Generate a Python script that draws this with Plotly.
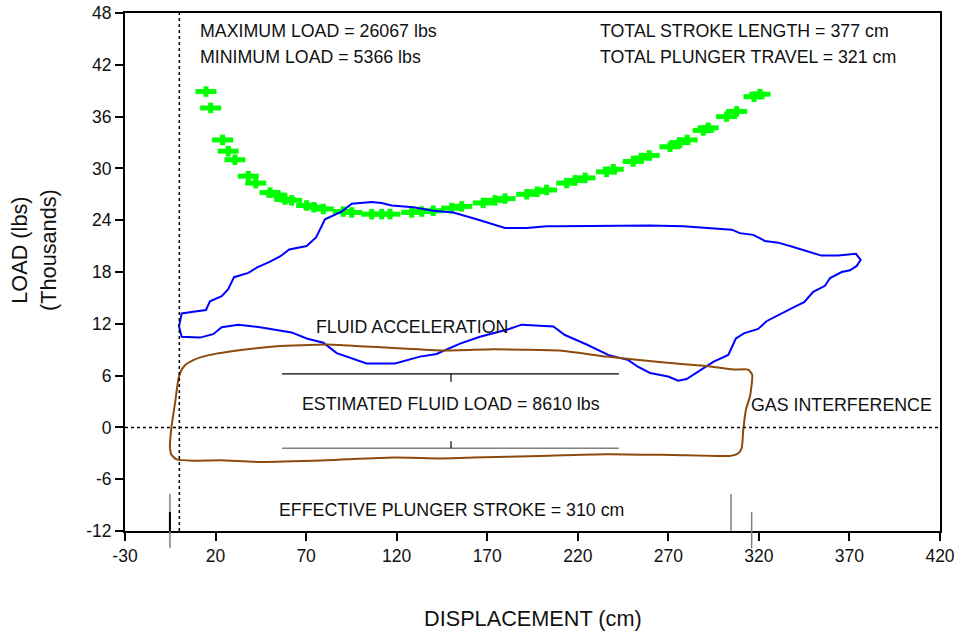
import plotly.graph_objects as go

# ---------------- data ----------------
# Permissible load curve (green crosses)
perm_x = [14.7, 17.3, 23.9, 27.0, 30.7, 38.1, 42.2, 50.1, 53.8, 58.3, 62.0, 70.3, 74.3, 79.5,
          90.5, 95.2, 106.2, 111.7, 116.3, 128.3, 133.8, 140.2, 150.4, 155.9, 167.8, 174.3,
          179.8, 191.8, 197.6, 202.8, 213.9, 218.4, 224.0, 235.9, 239.6, 250.6, 255.2, 259.4,
          270.9, 276.4, 280.4, 289.3, 292.0, 302.2, 307.7, 317.3, 320.6]
perm_y = [38.9, 37.0, 33.3, 32.0, 31.0, 29.1, 28.3, 27.2, 26.9, 26.4, 26.3, 25.7, 25.5, 25.3,
          25.0, 24.9, 24.7, 24.7, 24.7, 24.9, 25.0, 25.1, 25.4, 25.6, 26.0, 26.3,
          26.5, 27.0, 27.3, 27.5, 28.3, 28.6, 28.9, 29.6, 29.9, 30.8, 31.2, 31.5,
          32.5, 33.0, 33.3, 34.4, 34.7, 36.0, 36.6, 38.3, 38.6]

# Surface card (blue)
surf_x = [-0.2, 1.3, 7.7, 14.7, 16.9, 23.4, 27.0, 30.2, 38.1, 42.7, 50.1, 55.6, 60.7, 70.3, 75.5,
          80.4, 89.6, 95.2, 106.2, 111.7, 117.2, 129.2, 140.2, 151.3, 166.0, 179.8, 191.8, 202.8,
          210.2, 259.9, 278.2, 305.0, 309.5, 316.9, 323.3, 330.7, 339.0, 346.4, 354.6, 363.7,
          373.6, 376.2, 374.0, 370.3, 365.7, 359.3, 356.5, 350.0, 345.0, 339.9, 331.6, 324.2,
          319.6, 311.7, 307.3, 303.1, 294.8, 280.1, 275.5, 269.9, 259.9, 253.4, 247.9, 236.8,
          224.9, 212.9, 206.5, 199.1, 189.0, 180.7, 166.0, 155.0, 147.5, 142.0, 132.9, 125.5,
          119.1, 103.4, 95.2, 86.9, 79.5, 70.3, 62.0, 52.8, 44.5, 32.6, 23.4, 18.7, 11.4, 1.3, -0.2]
surf_y = [11.7, 13.2, 13.4, 13.6, 14.6, 15.2, 16.0, 17.4, 17.9, 18.5, 19.2, 19.8, 20.6, 21.0, 22.0,
          24.1, 25.0, 25.9, 26.1, 26.0, 25.7, 25.5, 25.1, 24.9, 24.0, 23.1, 23.1, 23.3,
          23.3, 23.4, 23.3, 22.9, 22.5, 22.3, 21.6, 21.4, 20.9, 20.4, 19.9, 19.9,
          20.1, 19.4, 18.7, 18.2, 18.0, 17.3, 16.4, 15.7, 14.5, 14.0, 13.1, 12.3,
          11.4, 10.9, 10.3, 8.4, 7.6, 5.6, 5.4, 5.9, 6.3, 7.0, 7.8, 8.4,
          9.6, 10.7, 11.7, 11.8, 11.9, 11.3, 10.5, 9.7, 9.0, 8.5, 8.2, 7.8,
          7.4, 7.4, 8.0, 8.6, 9.8, 10.3, 11.0, 11.3, 11.6, 11.9, 11.6, 10.8, 10.4, 10.5, 11.7]

# Pump card (brown)
pump_x = [0.4, 3.1, 7.7, 16.9, 35.3, 53.8, 81.4, 99.7, 118.2, 145.7, 173.3, 189.9, 210.2, 235.9,
          263.6, 291.1, 305.9, 314.1, 316.3, 315.1, 312.9, 311.4, 310.5, 308.6, 304.0, 272.7,
          235.9, 199.1, 162.3, 143.9, 118.1, 81.4, 44.5, 22.4, 7.7, -1.5, -4.3, -5.2, -4.3,
          -2.4, -0.6, 0.4]
pump_y = [6.3, 7.2, 7.8, 8.4, 9.0, 9.4, 9.6, 9.4, 9.2, 8.9, 9.05, 9.0, 8.9, 8.2,
          7.6, 7.1, 6.7, 6.7, 6.1, 3.6, 2.1, -0.25, -2.4, -3.0, -3.3, -3.2,
          -3.1, -3.3, -3.5, -3.6, -3.5, -3.8, -4.0, -3.8, -3.85, -3.7, -3.2, -2.2, 0.1,
          2.8, 5.5, 6.3]

# Fluid load bracket
fluid_x_range = [56.7, 242.7]
fluid_mid_x = 150.0
fluid_top_y = 6.2
fluid_top_tick_y = 5.3
fluid_bot_y = -2.41
fluid_bot_tick_y = -1.6

# Stroke markers at the bottom: (x, y_from, y_to)
stroke_markers_gray = [(-5.2, -7.7, -14.0), (304.6, -7.7, -12.0), (316.0, -9.8, -14.0)]
stroke_markers_black = [(-5.2, -9.8, -12.0)]

X_RANGE = [-30, 420]
Y_RANGE = [-12, 48]
x_ticks = list(range(-30, 421, 50))
y_ticks = list(range(-12, 49, 6))
x_ticktext = [str(v) for v in x_ticks]
y_ticktext = [str(v) for v in y_ticks]

texts_left = [
    ("MAXIMUM LOAD = 26067 lbs", 10.3, 45.95),
    ("MINIMUM LOAD = 5366 lbs", 10.3, 42.93),
    ("TOTAL STROKE LENGTH = 377 cm", 231.1, 45.95),
    ("TOTAL PLUNGER TRAVEL = 321 cm", 231.1, 42.93),
    ("GAS INTERFERENCE", 314.5, 2.6),
]
texts_center = [
    ("FLUID ACCELERATION", 128.5, 11.64),
    ("ESTIMATED FLUID LOAD = 8610 lbs", 150.0, 2.72),
    ("EFFECTIVE PLUNGER STROKE = 310 cm", 150.0, -9.57),
]

FONT = "Liberation Sans, Arial, sans-serif"
GREEN = "#00ff00"
TXT = "#111111"

fig = go.Figure()

# permissible load crosses (wide plus made of two bars)
fig.add_trace(go.Scatter(x=perm_x, y=perm_y, mode="markers", hoverinfo="skip",
                         marker=dict(symbol="line-ew", size=15, line=dict(color=GREEN, width=5))))
fig.add_trace(go.Scatter(x=perm_x, y=perm_y, mode="markers", hoverinfo="skip",
                         marker=dict(symbol="line-ns", size=7.5, line=dict(color=GREEN, width=5))))

# surface card
fig.add_trace(go.Scatter(x=surf_x, y=surf_y, mode="lines",
                         line=dict(color="#0000ff", width=2)))
# pump card
fig.add_trace(go.Scatter(x=pump_x, y=pump_y, mode="lines",
                         line=dict(color="#8c4a0c", width=2, shape="spline", smoothing=0.5)))

# fluid load bracket
fig.add_trace(go.Scatter(x=fluid_x_range, y=[fluid_top_y, fluid_top_y], mode="lines",
                         line=dict(color="black", width=1.2)))
fig.add_trace(go.Scatter(x=[fluid_mid_x, fluid_mid_x], y=[fluid_top_y, fluid_top_tick_y], mode="lines",
                         line=dict(color="black", width=1.2)))
fig.add_trace(go.Scatter(x=fluid_x_range, y=[fluid_bot_y, fluid_bot_y], mode="lines",
                         line=dict(color="#808080", width=1.5)))
fig.add_trace(go.Scatter(x=[fluid_mid_x, fluid_mid_x], y=[fluid_bot_y, fluid_bot_tick_y], mode="lines",
                         line=dict(color="black", width=1.2)))


def ypaper(v):
    return (v - Y_RANGE[0]) / (Y_RANGE[1] - Y_RANGE[0])


shapes = []
# dotted reference lines
shapes.append(dict(type="line", xref="x", yref="paper", x0=0, x1=0, y0=0, y1=1,
                   line=dict(color="black", width=1.5, dash="dot")))
shapes.append(dict(type="line", xref="paper", yref="y", x0=0, x1=1, y0=0, y1=0,
                   line=dict(color="black", width=1.5, dash="dot")))
for (xv, y0, y1) in stroke_markers_gray:
    shapes.append(dict(type="line", xref="x", yref="paper", x0=xv, x1=xv,
                       y0=ypaper(y0), y1=ypaper(y1), line=dict(color="#808080", width=1.5)))
for (xv, y0, y1) in stroke_markers_black:
    shapes.append(dict(type="line", xref="x", yref="paper", x0=xv, x1=xv,
                       y0=ypaper(y0), y1=ypaper(y1), line=dict(color="black", width=2)))

annotations = []
for (t, xv, yv) in texts_left:
    annotations.append(dict(text=t, x=xv, y=yv, xref="x", yref="y", xanchor="left",
                            yanchor="middle", showarrow=False,
                            font=dict(family=FONT, size=17.8, color=TXT)))
for (t, xv, yv) in texts_center:
    annotations.append(dict(text=t, x=xv, y=yv, xref="x", yref="y", xanchor="center",
                            yanchor="middle", showarrow=False,
                            font=dict(family=FONT, size=17.8, color=TXT)))
# axis titles
annotations.append(dict(text="DISPLACEMENT (cm)", x=0.5, y=-0.168, xref="paper", yref="paper",
                        xanchor="center", yanchor="middle", showarrow=False,
                        font=dict(family=FONT, size=21.7, color=TXT)))
annotations.append(dict(text="LOAD (lbs)<br>(Thousands)", x=-0.112, y=0.542, xref="paper",
                        yref="paper", xanchor="center", yanchor="middle", showarrow=False,
                        textangle=-90, font=dict(family=FONT, size=21.7, color=TXT)))

axis_common = dict(showline=True, mirror=True, linecolor="black", linewidth=2,
                   ticks="outside", ticklen=8, tickwidth=2, tickcolor="black",
                   showgrid=False, zeroline=False, automargin=False,
                   ticklabeloverflow="allow",
                   tickfont=dict(family=FONT, size=17.5, color=TXT))

fig.update_layout(
    width=954, height=634,
    margin=dict(l=125, r=14, t=13, b=103),
    paper_bgcolor="white", plot_bgcolor="white",
    showlegend=False,
    xaxis=dict(range=X_RANGE, tickvals=x_ticks, ticktext=x_ticktext, **axis_common),
    yaxis=dict(range=Y_RANGE, tickvals=y_ticks, ticktext=y_ticktext, **axis_common),
    shapes=shapes,
    annotations=annotations,
)

# remove the default page margin so the figure sits at the window's top-left corner
fig.write_html("out.html", config={"displayModeBar": False},
               post_script="document.body.style.margin='0';")
